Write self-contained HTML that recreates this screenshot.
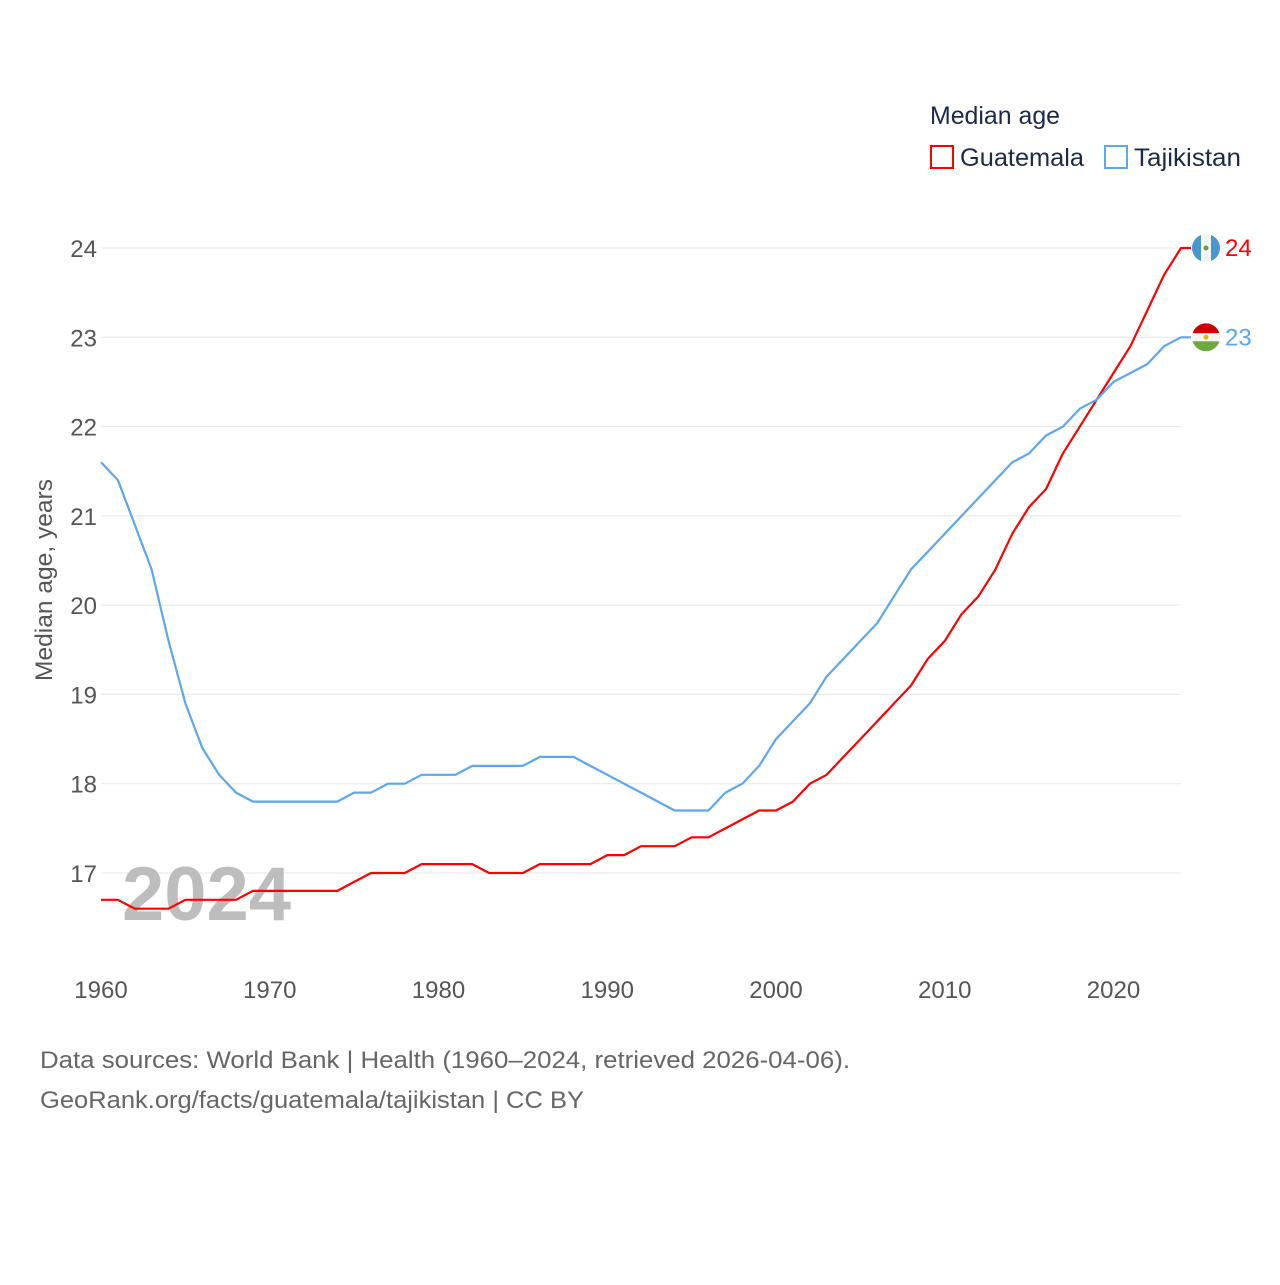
<!DOCTYPE html>
<html><head><meta charset="utf-8">
<style>
body{margin:0;background:#fff;font-family:"Liberation Sans",sans-serif;}
svg text{font-family:"Liberation Sans",sans-serif;}
</style></head>
<body>
<svg id="chart" width="1280" height="1280" viewBox="0 0 1280 1280" xmlns="http://www.w3.org/2000/svg">
<g>
<text x="930" y="124" font-size="25" fill="#1b2a4a" textLength="130" lengthAdjust="spacingAndGlyphs">Median age</text>
<rect x="931" y="146" width="22" height="22" fill="none" stroke="#ff0000" stroke-width="2"/>
<text x="960" y="166" font-size="25" fill="#1b2a4a" textLength="124" lengthAdjust="spacingAndGlyphs">Guatemala</text>
<rect x="1105" y="146" width="22" height="22" fill="none" stroke="#5ba7f0" stroke-width="2"/>
<text x="1134" y="166" font-size="25" fill="#1b2a4a" textLength="107" lengthAdjust="spacingAndGlyphs">Tajikistan</text>
</g>
<g id="grid"></g>
<g id="xaxis"></g>
<text x="52" y="580" font-size="24" fill="#555" transform="rotate(-90 52 580)" text-anchor="middle" textLength="202" lengthAdjust="spacingAndGlyphs">Median age, years</text>
<text x="122" y="920" font-size="76" font-weight="bold" fill="#bdbdbd">2024</text>
<g id="series"></g>
<text x="40" y="1068" font-size="24" fill="#666" textLength="810" lengthAdjust="spacingAndGlyphs">Data sources: World Bank | Health (1960–2024, retrieved 2026-04-06).</text>
<text x="40" y="1108" font-size="24" fill="#666" textLength="544" lengthAdjust="spacingAndGlyphs">GeoRank.org/facts/guatemala/tajikistan | CC BY</text>
</svg>
<script>
const years = [];
for (let y = 1960; y <= 2024; y++) years.push(y);
const guatemala = [16.7,16.7,16.6,16.6,16.6,16.7,16.7,16.7,16.7,16.8,16.8,16.8,16.8,16.8,16.8,16.9,17.0,17.0,17.0,17.1,17.1,17.1,17.1,17.0,17.0,17.0,17.1,17.1,17.1,17.1,17.2,17.2,17.3,17.3,17.3,17.4,17.4,17.5,17.6,17.7,17.7,17.8,18.0,18.1,18.3,18.5,18.7,18.9,19.1,19.4,19.6,19.9,20.1,20.4,20.8,21.1,21.3,21.7,22.0,22.3,22.6,22.9,23.3,23.7,24.0];
const tajikistan = [21.6,21.4,20.9,20.4,19.6,18.9,18.4,18.1,17.9,17.8,17.8,17.8,17.8,17.8,17.8,17.9,17.9,18.0,18.0,18.1,18.1,18.1,18.2,18.2,18.2,18.2,18.3,18.3,18.3,18.2,18.1,18.0,17.9,17.8,17.7,17.7,17.7,17.9,18.0,18.2,18.5,18.7,18.9,19.2,19.4,19.6,19.8,20.1,20.4,20.6,20.8,21.0,21.2,21.4,21.6,21.7,21.9,22.0,22.2,22.3,22.5,22.6,22.7,22.9,23.0];
const yTicks = [17,18,19,20,21,22,23,24];
const xTicks = [1960,1970,1980,1990,2000,2010,2020];

const NS = "http://www.w3.org/2000/svg";
const xs = y => 101 + (y - 1960) * (1181 - 101) / 64;
const ys = v => 873 - (v - 17) * (873 - 248) / 7;
function mk(tag, attrs, parent) {
  const e = document.createElementNS(NS, tag);
  for (const k in attrs) e.setAttribute(k, attrs[k]);
  parent.appendChild(e);
  return e;
}
const grid = document.getElementById('grid');
yTicks.forEach(t => {
  const l = mk('line', {x1: 101, x2: 1181, y1: ys(t), y2: ys(t), stroke: '#e6e6e6', 'stroke-width': 1}, grid);
  
  
  const tx = mk('text', {x: 97, y: ys(t) + 9, 'font-size': 24, fill: '#555', 'text-anchor': 'end'}, grid);
  tx.textContent = t;
  
  
});
const xa = document.getElementById('xaxis');
xTicks.forEach(t => {
  const tx = mk('text', {x: xs(t), y: 998, 'font-size': 24, fill: '#555', 'text-anchor': 'middle'}, xa);
  tx.textContent = t;
  
  
});
const sg = document.getElementById('series');
function drawSeries(vals, color, name, flagColors) {
  let d = vals.map((v, i) => (i ? 'L' : 'M') + xs(years[i]).toFixed(1) + ',' + ys(v).toFixed(1)).join(' ');
  d += ' H' + (xs(years[years.length - 1]) + 10).toFixed(1);
  const p = mk('path', {d: d, fill: 'none', stroke: color, 'stroke-width': 2.2, 'stroke-linejoin': 'round'}, sg);
  
  
  const last = vals[vals.length - 1];
  const cy = ys(last), cx = 1206;
  const g = mk('g', {}, sg);
  
  
  mk('clipPath', {id: 'clip-' + name}, g);
  mk('circle', {cx: cx, cy: cy, r: 14}, g.lastChild);
  const fg = mk('g', {'clip-path': 'url(#clip-' + name + ')'}, g);
  if (flagColors.vertical) {
    mk('rect', {x: cx - 14, y: cy - 14, width: 28, height: 28, fill: flagColors.c[1]}, fg);
    mk('rect', {x: cx - 14, y: cy - 14, width: 9, height: 28, fill: flagColors.c[0]}, fg);
    mk('rect', {x: cx + 5, y: cy - 14, width: 9, height: 28, fill: flagColors.c[0]}, fg);
  } else {
    mk('rect', {x: cx - 14, y: cy - 14, width: 28, height: 10, fill: flagColors.c[0]}, fg);
    mk('rect', {x: cx - 14, y: cy - 4, width: 28, height: 8, fill: flagColors.c[1]}, fg);
    mk('rect', {x: cx - 14, y: cy + 4, width: 28, height: 10, fill: flagColors.c[2]}, fg);
  }
  mk('circle', {cx: cx, cy: cy, r: 2.5, fill: flagColors.emblem}, fg);
  const lbl = mk('text', {x: 1225, y: cy + 8, 'font-size': 24, fill: color}, sg);
  lbl.textContent = Math.round(last);
  
  
}
drawSeries(guatemala, '#ff0000', 'guatemala', {vertical: true, c: ['#4997d0', '#f4f4f4'], emblem: '#6a9a3a'});
drawSeries(tajikistan, '#5ba7f0', 'tajikistan', {vertical: false, c: ['#cc0000', '#f4f4f4', '#6ea83c'], emblem: '#e3b600'});
</script>
</body></html>
